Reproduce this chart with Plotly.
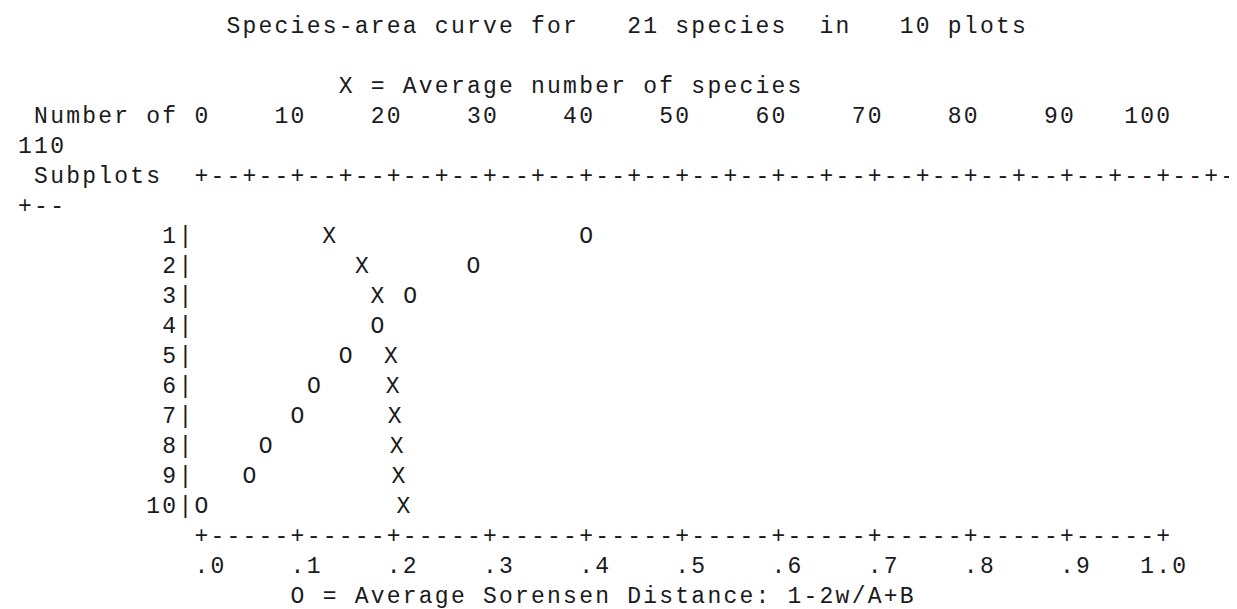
import plotly.graph_objects as go

# ---------------- data ----------------
n_species = 21
n_plots = 10
subplot_n = [1, 2, 3, 4, 5, 6, 7, 8, 9, 10]
avg_species = [13.3, 16.7, 18.3, 18.4, 19.7, 19.9, 20.1, 20.3, 20.5, 21.0]
avg_sorensen = [0.400, 0.283, 0.217, 0.183, 0.150, 0.117, 0.100, 0.067, 0.050, 0.000]

species_ticks = [0, 10, 20, 30, 40, 50, 60, 70, 80, 90, 100, 110]
species_minor_step = 5
distance_ticks = [0.0, 0.1, 0.2, 0.3, 0.4, 0.5, 0.6, 0.7, 0.8, 0.9, 1.0]
distance_tick_labels = [".0", ".1", ".2", ".3", ".4", ".5", ".6", ".7", ".8", ".9", "1.0"]

title_text = ("Species-area curve for" + f"{n_species:5d}" + " species  in"
              + f"{n_plots:5d}" + " plots")
top_axis_title = "X = Average number of species"
bottom_axis_title = "O = Average Sorensen Distance: 1-2w/A+B"
left_title_1 = "Number of"
left_title_2 = "Subplots"

# ---------------- layout constants ----------------
W, H = 1237, 609
CW = 16.03      # character advance (px)
X0 = 17.0       # centre of text column 0 (px)
LH = 30.0       # line pitch (px)
Y0 = 19.0       # anchor of text line 0 (px)
WRAP = 77       # columns per screen line
ORIGIN_COL = 11
COLS_PER_DIST = 60.0
COLS_PER_SPECIES = 0.6
FIRST_ROW_LINE = 7
FONT = dict(family="Liberation Mono, Courier New, monospace", size=23, color="#1a1a1a")

lines = {}


def put(line, col, s):
    buf = lines.setdefault(line, [])
    while len(buf) < col + len(s):
        buf.append(" ")
    for i, ch in enumerate(s):
        buf[col + i] = ch


# title and axis captions
put(0, 13, title_text)
put(2, 20, top_axis_title)

# top tick labels (right aligned at tick column), word-wrapped
put(3, 1, left_title_1)
overflow = []
for v in species_ticks:
    lab = str(v)
    end = ORIGIN_COL + int(round(v * COLS_PER_SPECIES))
    if end >= WRAP:
        overflow.append(lab)
    else:
        put(3, end - len(lab) + 1, lab)
if overflow:
    put(4, 0, " ".join(overflow))

# top rule, char-wrapped
put(5, 1, left_title_2)
rule = []
last = ORIGIN_COL + int(round(species_ticks[-1] * COLS_PER_SPECIES))
step_cols = int(round(species_minor_step * COLS_PER_SPECIES))
for c in range(ORIGIN_COL, last + step_cols):
    rule.append("+" if (c - ORIGIN_COL) % step_cols == 0 else "-")
full = "".join(rule)
put(5, ORIGIN_COL, full[:WRAP - ORIGIN_COL])
put(6, 0, full[WRAP - ORIGIN_COL:])

# row labels
for r in subplot_n:
    put(FIRST_ROW_LINE + r - 1, 0, f"{r:10d}|")

# bottom rule and labels
bottom_line = FIRST_ROW_LINE + len(subplot_n)
end_col = ORIGIN_COL + int(round(distance_ticks[-1] * COLS_PER_DIST))
tick_cols = [ORIGIN_COL + int(round(t * COLS_PER_DIST)) for t in distance_ticks]
put(bottom_line, ORIGIN_COL, "-" * (end_col - ORIGIN_COL + 1))
for c in tick_cols:
    put(bottom_line, c, "+")
for c, lab in zip(tick_cols, distance_tick_labels):
    put(bottom_line + 1, c + 2 - len(lab), lab)
put(bottom_line + 2, 17, bottom_axis_title)

# collect decoration characters
dx, dy, dt = [], [], []
for ln, buf in lines.items():
    for c, ch in enumerate(buf):
        if ch != " ":
            dx.append(c)
            dy.append(ln)
            dt.append(ch)

# ---------------- axes ranges ----------------
col_left = (0 - X0) / CW
col_right = (W - X0) / CW
line_top = (0 - Y0) / LH
line_bottom = (H - Y0) / LH

dist_left = (col_left - ORIGIN_COL) / COLS_PER_DIST
dist_right = (col_right - ORIGIN_COL) / COLS_PER_DIST
spec_left = (col_left - ORIGIN_COL) / COLS_PER_SPECIES
spec_right = (col_right - ORIGIN_COL) / COLS_PER_SPECIES
row_top = line_top - FIRST_ROW_LINE + 1
row_bottom = line_bottom - FIRST_ROW_LINE + 1

# an O printed in the same character cell hides the X
x_text = []
for s, d in zip(avg_species, avg_sorensen):
    cs = int(round(s * COLS_PER_SPECIES))
    cd = int(round(d * COLS_PER_DIST))
    x_text.append("" if cs == cd else "X")

fig = go.Figure()
fig.add_trace(go.Scatter(x=dx, y=dy, text=dt, mode="text", textposition="middle center",
                         textfont=FONT, hoverinfo="skip", showlegend=False,
                         xaxis="x", yaxis="y"))
fig.add_trace(go.Scatter(x=avg_species, y=subplot_n, text=x_text, mode="text",
                         textposition="middle center", textfont=FONT,
                         name="Average number of species", showlegend=False,
                         xaxis="x3", yaxis="y2"))
fig.add_trace(go.Scatter(x=avg_sorensen, y=subplot_n, text=["O"] * len(subplot_n),
                         mode="text", textposition="middle center", textfont=FONT,
                         name="Average Sorensen Distance", showlegend=False,
                         xaxis="x2", yaxis="y2"))

hidden = dict(visible=False, showgrid=False, zeroline=False, fixedrange=True)
fig.update_layout(
    width=W, height=H,
    margin=dict(l=0, r=0, t=0, b=0),
    paper_bgcolor="white", plot_bgcolor="white",
    xaxis=dict(range=[col_left, col_right], domain=[0, 1], **hidden),
    yaxis=dict(range=[line_bottom, line_top], domain=[0, 1], **hidden),
    xaxis2=dict(range=[dist_left, dist_right], overlaying="x", **hidden),
    xaxis3=dict(range=[spec_left, spec_right], overlaying="x", **hidden),
    yaxis2=dict(range=[row_bottom, row_top], overlaying="y", **hidden),
    showlegend=False,
    hovermode=False,
)

fig.write_html("out.html")
